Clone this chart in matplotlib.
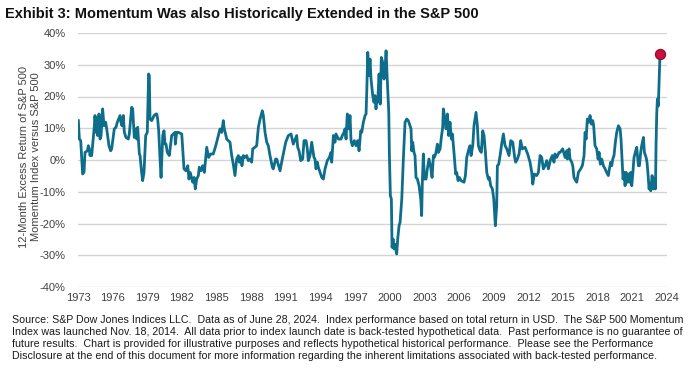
import matplotlib.pyplot as plt
import numpy as np

plt.rcParams['font.family'] = ['Liberation Sans', 'DejaVu Sans']

# 12-month excess return (%) of S&P 500 Momentum vs S&P 500
years = [
    1973.03, 1973.12, 1973.24, 1973.41, 1973.53, 1973.62, 1973.83, 1973.92, 1974.00, 1974.06,
    1974.15, 1974.21, 1974.45, 1974.50, 1974.60, 1974.65, 1974.74, 1974.86, 1974.95, 1975.04,
    1975.18, 1975.30, 1975.45, 1975.54, 1975.74, 1975.89, 1975.98, 1976.13, 1976.21, 1976.36,
    1976.48, 1976.72, 1976.80, 1976.89, 1977.01, 1977.10, 1977.25, 1977.45, 1977.54, 1977.75,
    1977.84, 1977.98, 1978.10, 1978.19, 1978.28, 1978.43, 1978.49, 1978.63, 1978.72, 1978.84,
    1978.99, 1979.13, 1979.25, 1979.31, 1979.37, 1979.52, 1979.73, 1979.90, 1979.96, 1980.05,
    1980.14, 1980.26, 1980.35, 1980.50, 1980.61, 1980.70, 1980.79, 1980.90, 1981.08, 1981.29,
    1981.58, 1981.61, 1981.73, 1981.88, 1982.18, 1982.38, 1982.56, 1982.71, 1982.82, 1982.91,
    1983.00, 1983.15, 1983.27, 1983.38, 1983.50, 1983.65, 1983.73, 1983.88, 1984.03, 1984.18,
    1984.39, 1984.56, 1984.74, 1984.97, 1985.19, 1985.42, 1985.57, 1985.72, 1985.86, 1985.92,
    1986.16, 1986.45, 1986.60, 1986.74, 1986.89,
    1987.04, 1987.19, 1987.28, 1987.42, 1987.51, 1987.63, 1987.78, 1987.93, 1988.07, 1988.22,
    1988.37, 1988.46, 1988.66, 1988.81, 1988.96, 1989.11, 1989.31, 1989.40, 1989.55, 1989.70,
    1989.84, 1989.99, 1990.20, 1990.28, 1990.49, 1990.58, 1990.88, 1991.02, 1991.17, 1991.38,
    1991.61, 1991.85, 1992.05, 1992.35, 1992.44, 1992.56, 1992.71, 1992.88, 1993.00, 1993.18,
    1993.29, 1993.38, 1993.53, 1993.68, 1993.77, 1993.88, 1993.97, 1994.06, 1994.18, 1994.27,
    1994.42, 1994.57, 1994.71, 1994.86, 1995.06, 1995.24, 1995.39, 1995.45, 1995.60, 1995.74,
    1995.83, 1996.04, 1996.27, 1996.39, 1996.54, 1996.63, 1996.72, 1996.83, 1996.96, 1997.07,
    1997.16, 1997.28, 1997.45, 1997.60, 1997.75, 1997.87, 1998.02, 1998.11, 1998.25, 1998.40,
    1998.49, 1998.55, 1998.64, 1998.75, 1998.84, 1998.93, 1999.08, 1999.19, 1999.28, 1999.37,
    1999.46, 1999.52, 1999.64, 1999.75, 1999.84, 1999.96, 2000.08, 2000.17, 2000.26, 2000.35,
    2000.50, 2000.55, 2000.64, 2000.73, 2000.79, 2000.88, 2000.96, 2001.05, 2001.20, 2001.29,
    2001.41,
    2001.50, 2001.65, 2001.79, 2001.94, 2002.09, 2002.23, 2002.38, 2002.47, 2002.53, 2002.62,
    2002.73, 2002.82, 2002.91, 2003.03, 2003.18, 2003.33, 2003.41, 2003.47, 2003.56, 2003.65,
    2003.80, 2003.91, 2004.06, 2004.21, 2004.33, 2004.45, 2004.53, 2004.65, 2004.80, 2004.89,
    2005.04, 2005.15, 2005.27, 2005.33, 2005.45, 2005.57, 2005.69, 2005.80, 2005.92, 2006.04,
    2006.13, 2006.27, 2006.42, 2006.51, 2006.63, 2006.75, 2006.89, 2007.16, 2007.28, 2007.40,
    2007.54, 2007.69, 2007.78, 2007.93, 2008.04, 2008.22, 2008.34, 2008.43, 2008.58, 2008.69,
    2008.81, 2008.93, 2009.05, 2009.17, 2009.31, 2009.40, 2009.52, 2009.67, 2009.79, 2009.93,
    2010.05, 2010.11, 2010.23, 2010.35, 2010.49, 2010.64, 2010.79, 2010.94, 2011.14, 2011.29,
    2011.47, 2011.64, 2011.73, 2011.88, 2012.03, 2012.17, 2012.32, 2012.56, 2012.79, 2013.00,
    2013.15, 2013.24, 2013.38, 2013.59, 2013.74, 2013.89, 2014.03, 2014.18, 2014.33, 2014.48,
    2014.62, 2014.83, 2014.98, 2015.12, 2015.21, 2015.36, 2015.57,
    2015.66, 2015.89, 2016.10, 2016.24, 2016.30, 2016.45, 2016.54, 2016.69, 2016.78, 2016.89,
    2017.04, 2017.13, 2017.28, 2017.48, 2017.63, 2017.78, 2017.87, 2017.96, 2018.07, 2018.19,
    2018.31, 2018.43, 2018.55, 2018.63, 2018.75, 2018.90, 2019.02, 2019.11, 2019.22, 2019.34,
    2019.49, 2019.64, 2019.78, 2019.93, 2020.02, 2020.14, 2020.23, 2020.32, 2020.43, 2020.55,
    2020.67, 2020.82, 2020.97, 2021.05, 2021.14, 2021.23, 2021.32, 2021.41, 2021.50, 2021.61,
    2021.70, 2021.79, 2021.91, 2022.00, 2022.09, 2022.20, 2022.35, 2022.44, 2022.59, 2022.68,
    2022.79, 2022.88, 2023.03, 2023.12, 2023.27, 2023.35, 2023.44, 2023.53, 2023.62, 2023.68,
    2023.80, 2023.91, 2024.03, 2024.10, 2024.15, 2024.21, 2024.27, 2024.35, 2024.50,
]
excess = [
    12.4, 6.6, 6.1, -4.4, -3.9, 2.4, 2.9, 4.5, 3.5, 1.4,
    2.4, 1.4, 10.8, 14.0, 8.7, 13.4, 7.7, 14.5, 6.6, 7.7,
    16.1, 10.8, 11.9, 9.8, 4.5, 2.9, 3.5, 7.7, 9.8, 10.3,
    11.9, 14.0, 11.9, 10.8, 14.0, 8.7, 7.1, 6.6, 8.2, 16.6,
    16.1, 7.1, 9.8, 6.6, 10.3, 1.9, 1.4, -3.9, -6.5, -3.9,
    7.7, 8.7, 27.1, 26.6, 12.9, 12.4, 14.0, 14.5, 14.5, 12.9,
    9.2, 0.3, -5.5, 7.7, 9.2, 5.0, 5.0, 2.4, 1.4, 7.7,
    8.7, 5.0, 8.7, 8.7, 8.2, -2.8, -3.4, -1.8, -6.0, -3.9,
    -4.9, -7.0, -5.5, -9.1, -6.0, -4.9, -2.3, -3.4, -1.8, -3.9,
    4.0, 0.8, 1.9, 1.9, 4.5, 7.7, 9.8, 8.7, 12.4, 10.3,
    6.6, 5.6, 1.4, -1.3, -4.9,
    0.3, 1.4, -0.7, 0.8, -1.8, 1.4, 0.8, 1.4, -0.2, 0.3,
    -0.7, 3.5, 4.0, 4.5, 10.3, 12.9, 15.5, 14.0, 8.7, 5.6,
    4.5, 1.4, -2.3, -2.8, 0.3, 0.3, -3.4, -0.7, 1.9, 5.6,
    7.7, 8.2, 5.0, 7.7, 4.0, 2.9, -0.2, 0.3, 6.1, 6.1,
    3.5, -0.2, 1.4, 5.6, 3.5, 0.8, 0.3, -2.8, -0.7, -2.3,
    -3.9, -5.5, -6.0, -2.8, -0.2, 0.8, 2.4, -0.7, 7.7, 5.6,
    8.2, 6.6, 6.6, 7.7, 8.7, 9.8, 6.6, 14.5, 9.8, 14.0,
    6.1, 4.5, 6.1, 4.5, 6.1, 2.9, 9.2, 8.7, 11.9, 14.0,
    14.5, 21.3, 33.9, 26.6, 31.8, 25.5, 20.3, 18.2, 20.3, 16.1,
    19.7, 18.2, 27.1, 17.6, 32.3, 30.8, 25.5, 28.7, 34.4, 26.6,
    15.0, 2.4, -11.2, -12.3, -27.5, -24.9, -28.0, -26.5, -29.6, -24.9,
    -20.7,
    -19.6, -12.3, 0.3, 11.9, 12.9, 12.4, 10.8, 9.8, 2.9, 5.6,
    2.4, 1.4, -5.5, -6.0, -8.1, -12.3, -17.5, -7.0, 1.9, -6.0,
    -6.0, -2.8, 0.3, -2.3, -5.5, 1.4, 0.8, 1.9, 5.0, 2.4,
    3.5, 7.1, 10.3, 16.1, 13.4, 9.8, 14.5, 7.7, 11.9, 6.6,
    8.2, 2.4, -4.4, -3.9, -6.5, -5.5, -6.5, -7.0, -4.9, 0.8,
    2.9, 4.5, 1.4, 4.5, 10.8, 15.0, 10.8, 4.5, 2.9, 2.4,
    9.2, 7.7, 2.4, -3.9, -6.0, -5.5, -8.1, -9.1, -12.3, -20.7,
    -14.4, -1.8, -1.3, 1.4, 5.0, 8.2, 4.5, 3.5, 1.4, 6.1,
    5.6, 0.8, -0.7, 0.3, 1.9, 6.1, 3.5, 4.0, 1.9, -0.7,
    -3.9, -7.6, -4.4, -4.9, -3.9, 1.4, 0.8, -2.8, -1.8, -0.2,
    -2.8, 0.3, 1.4, -0.7, 1.9, 0.8, 2.4,
    2.4, 3.5, 0.8, 2.9, 0.3, 3.5, 0.3, -0.7, -1.8, -5.5,
    -6.5, -7.0, -3.9, -2.8, -1.8, 1.4, 8.7, 6.6, 12.9, 11.9,
    14.0, 11.3, 12.4, 10.8, 4.5, 3.5, 0.3, 2.4, -1.3, 0.3,
    -1.8, -2.8, -3.9, -4.9, -2.8, -0.7, -1.8, 0.3, 1.4, 5.6,
    8.7, 10.8, 9.8, 6.6, 0.3, -6.0, -3.9, -8.1, -3.9, -7.0,
    -4.4, -7.0, -3.9, -8.1, -4.4, 0.8, 2.9, 4.0, -1.8, -1.8,
    2.4, 4.5, 7.1, 2.4, 0.8, -0.7, -4.4, -9.1, -7.6, -9.7,
    -4.9, -9.1, -6.0, -9.1, 4.7, 14.5, 19.2, 17.0, 33.4,
]

tick_years = list(range(1973, 2025, 3))
y_ticks = [40, 30, 20, 10, 0, -10, -20, -30, -40]

title = "Exhibit 3: Momentum Was also Historically Extended in the S&P 500"
y_title = "12-Month Excess Return of S&P 500\nMomentum Index versus S&P 500"
footnote = (
    "Source: S&P Dow Jones Indices LLC.  Data as of June 28, 2024.  Index performance based on total return in USD.  The S&P 500 Momentum\n"
    "Index was launched Nov. 18, 2014.  All data prior to index launch date is back-tested hypothetical data.  Past performance is no guarantee of\n"
    "future results.  Chart is provided for illustrative purposes and reflects hypothetical historical performance.  Please see the Performance\n"
    "Disclosure at the end of this document for more information regarding the inherent limitations associated with back-tested performance."
)

line_color = "#0d6d8a"
grid_color = "#d4d4d4"
text_color = "#404040"

fig = plt.figure(figsize=(6.91, 3.75), dpi=100)
ax = fig.add_axes([78 / 691, 1 - 287 / 375, 589 / 691, 254 / 375])

ax.plot(years, excess, color=line_color, lw=2.0, solid_joinstyle="round", zorder=3)
ax.plot(years[-1], excess[-1], "o", ms=7.2, mfc="#d0103a", mec="#8a1238", mew=1.0, zorder=4)

# the category axis of the source puts the last point a bit short of the right edge
x_left = years[0] - 0.03
x_right = x_left + (years[-1] - x_left) * 589 / 582
ax.set_xlim(x_left, x_right)
ax.set_xticks(np.linspace(x_left, x_right, len(tick_years)))
ax.set_xticklabels([str(y) for y in tick_years])

ax.set_ylim(-40, 40)
ax.set_yticks(y_ticks)
ax.set_yticklabels([f"{v}%" for v in y_ticks])
ax.yaxis.grid(True, color=grid_color, lw=1.0)
ax.set_axisbelow(True)

for s in ax.spines.values():
    s.set_visible(False)
ax.tick_params(axis="both", length=0, labelsize=8, colors=text_color)
ax.tick_params(axis="x", pad=4)
ax.tick_params(axis="y", pad=9)

fig.text(30 / 691, 1 - 157 / 375, y_title, rotation=90, ha="center", va="center",
         fontsize=8, color=text_color, linespacing=1.2)
fig.text(5 / 691, 1 - 14 / 375, title, ha="left", va="center", fontsize=10.5,
         fontweight="bold", color="#111111")
fig.text(12 / 691, 1 - 315 / 375, footnote, ha="left", va="top", fontsize=7.7,
         color="#1a1a1a", linespacing=1.23)

fig.savefig("out.png", dpi=100)
